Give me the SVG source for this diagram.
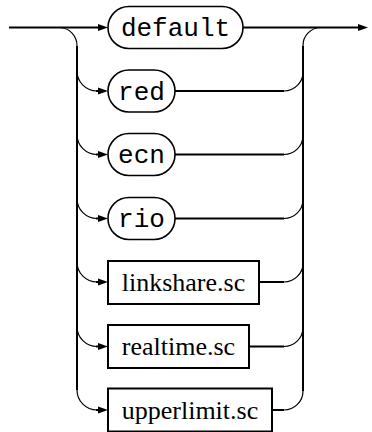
<svg xmlns="http://www.w3.org/2000/svg" width="372" height="432" viewBox="0 0 372 432">
<style>
.ln{fill:none;stroke:#000;stroke-width:2}
.cv{fill:none;stroke:#000;stroke-width:1.2}
.term{fill:#fff;stroke:#000;stroke-width:1.6}
.nt{fill:#fff;stroke:#000;stroke-width:2}
.tt{font-family:"Liberation Mono",monospace;font-size:26px;text-anchor:middle;fill:#000}
.nn{font-family:"Liberation Serif",serif;font-size:26px;text-anchor:middle;fill:#000}
</style>
<defs>
<path id="ah" d="M0,0 L-10,-3.5 L-10,3.5 Z" fill="#000"/>
</defs>
<g id="connectors">
<path class="ln" d="M9,27.5 H99"/>
<use href="#ah" x="108" y="27.5"/>
<path class="ln" d="M243,27.5 H359"/>
<use href="#ah" x="368" y="27.5"/>
<path class="cv" d="M60,27.5 A18,18 0 0 1 77,46"/>
<path class="ln" d="M77,46 V390"/>
<path class="cv" d="M321,27.5 A18,18 0 0 0 303,46"/>
<path class="ln" d="M303,46 V391"/>
<path class="cv" d="M77,71 A20,20 0 0 0 97,91"/><path class="ln" d="M96,91 H99"/><use href="#ah" x="108" y="91"/>
<path class="ln" d="M175,91 H284"/><path class="cv" d="M284,91 A19,19 0 0 0 303,72"/>
<path class="cv" d="M77,134.5 A20,20 0 0 0 97,154.5"/><path class="ln" d="M96,154.5 H99"/><use href="#ah" x="108" y="154.5"/>
<path class="ln" d="M175,154.5 H284"/><path class="cv" d="M284,154.5 A19,19 0 0 0 303,135.5"/>
<path class="cv" d="M77,198.5 A20,20 0 0 0 97,218.5"/><path class="ln" d="M96,218.5 H99"/><use href="#ah" x="108" y="218.5"/>
<path class="ln" d="M175,218.5 H284"/><path class="cv" d="M284,218.5 A19,19 0 0 0 303,199.5"/>
<path class="cv" d="M77,262 A20,20 0 0 0 97,282"/><path class="ln" d="M96,282 H99"/><use href="#ah" x="108" y="282"/>
<path class="ln" d="M259,282 H284"/><path class="cv" d="M284,282 A19,19 0 0 0 303,263"/>
<path class="cv" d="M77,326.5 A20,20 0 0 0 97,346.5"/><path class="ln" d="M96,346.5 H99"/><use href="#ah" x="108" y="346.5"/>
<path class="ln" d="M249,346.5 H284"/><path class="cv" d="M284,346.5 A19,19 0 0 0 303,327.5"/>
<path class="cv" d="M77,390 A20,20 0 0 0 97,410"/><path class="ln" d="M96,410 H99"/><use href="#ah" x="108" y="410"/>
<path class="ln" d="M272,410 H284"/><path class="cv" d="M284,410 A19,19 0 0 0 303,391"/>
</g>
<g id="default"><rect class="term" x="108" y="6.5" width="135" height="42" rx="21"/><text class="tt" x="175.5" y="36">default</text></g>
<g id="red"><rect class="term" x="108" y="70" width="67" height="42" rx="21"/><text class="tt" x="141.5" y="99.5">red</text></g>
<g id="ecn"><rect class="term" x="108" y="133.5" width="67" height="42" rx="21"/><text class="tt" x="141.5" y="163">ecn</text></g>
<g id="rio"><rect class="term" x="108" y="197.5" width="67" height="42" rx="21"/><text class="tt" x="141.5" y="227">rio</text></g>
<g id="linkshare"><rect class="nt" x="108" y="261" width="151" height="43"/><text class="nn" x="183.5" y="291">linkshare.sc</text></g>
<g id="realtime"><rect class="nt" x="108" y="325" width="141" height="43"/><text class="nn" x="178.5" y="355">realtime.sc</text></g>
<g id="upperlimit"><rect class="nt" x="108" y="388.5" width="164" height="43"/><text class="nn" x="190" y="418.5">upperlimit.sc</text></g>
</svg>
